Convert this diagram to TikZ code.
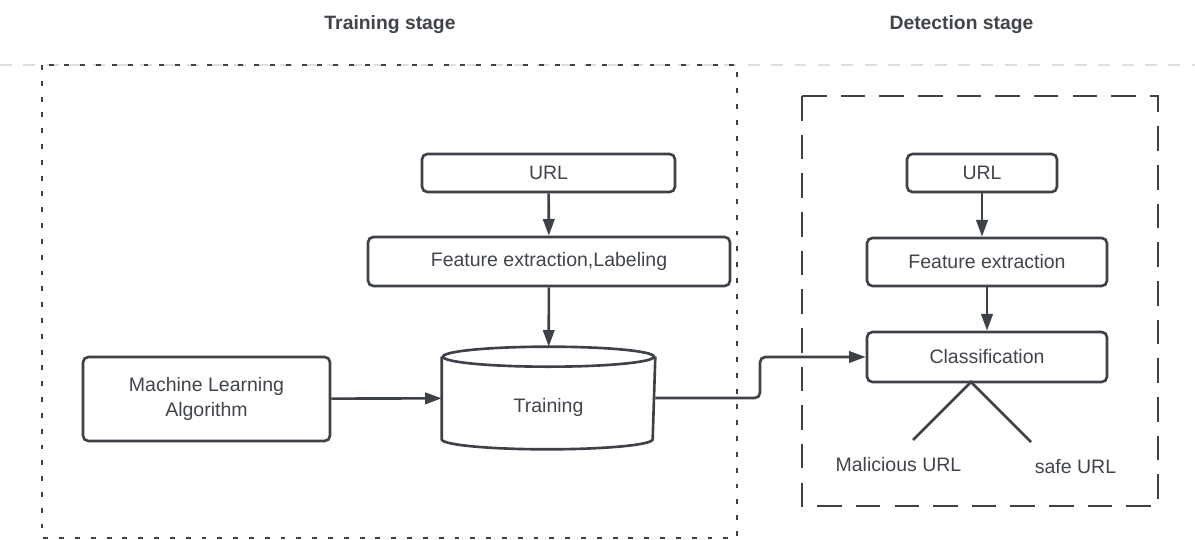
\documentclass[tikz,border=0pt]{standalone}
\usepackage{fontspec}
\setmainfont{Liberation Sans}
\usetikzlibrary{positioning, arrows.meta}
\definecolor{linegray}{RGB}{61,65,72}
\definecolor{textgray}{RGB}{64,68,75}
\definecolor{sepgray}{RGB}{222,222,222}

\begin{document}
\begin{tikzpicture}[
    x=0.02cm, y=-0.02cm,
    box/.style={rectangle, draw=linegray, line width=1.5pt, rounded corners=3pt, align=center, text=textgray, font=\fontsize{11.1}{14}\selectfont, inner sep=0pt},
    title/.style={font=\bfseries\fontsize{11}{13}\selectfont, text=textgray},
    outlabel/.style={font=\fontsize{11.1}{14}\selectfont, text=textgray},
    arrow/.style={-{Triangle[length=9.5pt, width=6.5pt]}, draw=linegray, line width=1.5pt},
    link/.style={draw=linegray, line width=1.5pt},
    stageline/.style={draw=sepgray, line width=1.4pt, dash pattern=on 6.8pt off 6.5pt},
    trainframe/.style={draw=linegray, line width=1.2pt, dash pattern=on 2.8pt off 6.2pt},
    detectframe/.style={draw=linegray, line width=1.5pt, dash pattern=on 14pt off 8pt}
  ]
  \useasboundingbox (0,0) rectangle (1195,540);

  % stage titles and frames
  \node[title] (tstage) at (390,25) {Training stage};
  \node[title] (dstage) at (961.5,25) {Detection stage};
  \draw[stageline] (0,65) -- (1195,65);
  \draw[trainframe] (42,65) rectangle (737,538);
  \draw[detectframe] (802,96) rectangle (1158,506);

  % training stage
  \node[box, minimum width=5.06cm, minimum height=0.76cm] (url1) at (548.5,173) {URL};
  \node[box, minimum width=7.24cm, minimum height=0.98cm] (feat1) at (549,261.5) {Feature extraction,Labeling};
  \node[box, draw=none, minimum width=4.22cm, minimum height=2.0cm] (train) at (548.5,398) {\raisebox{-8.5pt}[0pt][0pt]{Training}};
  \node[box, minimum width=4.94cm, minimum height=1.68cm] (mlalg) at (206.5,399) {Machine Learning\\Algorithm};

  % cylinder outline
  \draw[link] ([yshift=-0.2cm]train.north west) -- ([yshift=0.2cm]train.south west)
    arc[start angle=180, end angle=360, x radius=2.11cm, y radius=0.2cm]
    -- ([yshift=-0.2cm]train.north east);
  \draw[link] ([yshift=-0.2cm]train.north) ellipse[x radius=2.11cm, y radius=0.2cm];

  % detection stage
  \node[box, minimum width=3.0cm, minimum height=0.76cm] (url2) at (982,173) {URL};
  \node[box, minimum width=4.8cm, minimum height=0.96cm] (feat2) at (987,262) {Feature extraction};
  \node[box, minimum width=4.8cm, minimum height=1.0cm] (class) at (987,357) {Classification};
  \node[outlabel] (malurl) at (898.5,465) {Malicious URL};
  \node[outlabel] (safeurl) at (1075.5,467) {safe URL};
  \coordinate (apex) at (971,382);
  \coordinate (malend) at (913,440);
  \coordinate (safeend) at (1031,442);
  \coordinate (bend) at (760,0);

  \draw[arrow] (url1) -- (feat1);
  \draw[arrow] (feat1) -- (train);
  \draw[arrow] (mlalg) -- (train);
  \draw[arrow] (url2) -- (url2 |- feat2.north);
  \draw[arrow] (feat2) -- (class);
  \draw[arrow, rounded corners=3pt] (train.east) -- (train.east -| bend) |- (class.west);
  \draw[link] (malend) -- (apex) -- (safeend);
\end{tikzpicture}
\end{document}
